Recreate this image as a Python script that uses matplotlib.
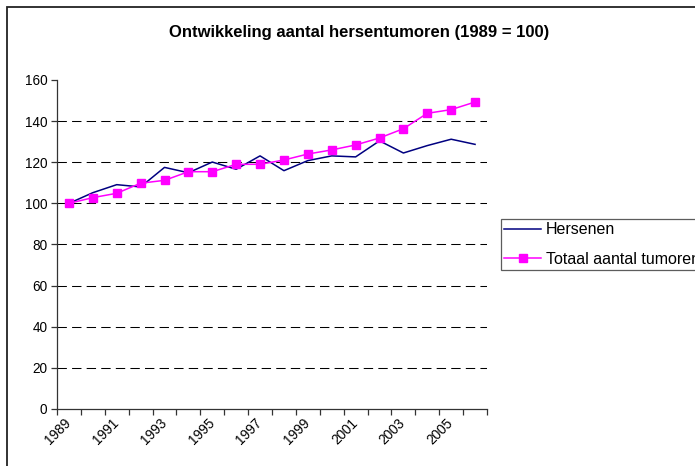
import matplotlib
matplotlib.use('Agg')
import matplotlib.pyplot as plt
from matplotlib.patches import Rectangle
from matplotlib.transforms import ScaledTranslation
import numpy as np

plt.rcParams['font.family'] = ['Liberation Sans', 'DejaVu Sans']

# data (index 1989 = 100)
years = list(range(1989, 2007))
hersenen = [100, 105.2, 109.1, 108.0, 117.5, 114.9, 120.1, 116.6, 123.1, 115.9,
            120.8, 123.1, 122.6, 130.4, 124.5, 128.1, 131.2, 128.7]
totaal = [100, 102.8, 104.9, 109.8, 111.2, 115.4, 115.4, 119.0, 119.0, 121.1,
          124.0, 126.0, 128.4, 131.8, 136.3, 143.8, 145.6, 149.3]
yticks = [0, 20, 40, 60, 80, 100, 120, 140, 160]
title = 'Ontwikkeling aantal hersentumoren (1989 = 100)'

W, H = 695, 466
fig = plt.figure(figsize=(W / 100, H / 100), dpi=100)
ax = fig.add_axes([57 / W, 1 - 409 / H, (487 - 57) / W, (409 - 80) / H])

x = np.arange(len(years))
ax.plot(x, hersenen, color='#000080', lw=1.1, label='Hersenen')
ax.plot(x, totaal, color='#FF00FF', lw=1.1, marker='s', markersize=5.5,
        label='Totaal aantal tumoren')

# axes styling, Excel look
ax.set_xlim(-0.5, len(years) - 0.5)
ax.set_ylim(0, 160)
for s in ['top', 'right']:
    ax.spines[s].set_visible(False)
for s in ['left', 'bottom']:
    ax.spines[s].set_color('#333333')
    ax.spines[s].set_linewidth(0.9)

ax.set_yticks(yticks)
ax.tick_params(axis='y', direction='out', length=4, width=0.9, color='#333333',
               labelsize=9.8, pad=3)
for v in yticks[1:-1]:
    ax.axhline(v, color='black', lw=0.75, linestyle=(0, (9, 5)), zorder=0)

# category axis: marks between categories, labels every other year
ax.set_xticks(np.arange(-0.5, len(years), 1.0))
ax.set_xticklabels([])
ax.tick_params(axis='x', which='major', direction='out', length=4, width=0.9,
               color='#333333')
ax.set_xticks(x[::2], minor=True)
ax.set_xticklabels([str(y) for y in years[::2]], minor=True, rotation=45,
                   ha='right', va='top', rotation_mode='anchor', fontsize=9.8)
ax.tick_params(axis='x', which='minor', length=0, pad=5)
shift = ScaledTranslation(-5 / 100, 0, fig.dpi_scale_trans)
for lab in ax.get_xticklabels(minor=True):
    lab.set_transform(lab.get_transform() + shift)

fig.text(359 / W, 1 - 32 / H, title, ha='center', va='center',
         fontsize=12, fontweight='bold')

leg = fig.legend(loc='upper left', bbox_to_anchor=(501 / W, 1 - 219 / H),
                 fontsize=11.5, frameon=True, fancybox=False, borderaxespad=0,
                 handlelength=2.3, handletextpad=0.3, borderpad=0.2,
                 labelspacing=0.9)
leg.get_frame().set_edgecolor('#333333')
leg.get_frame().set_linewidth(0.9)

# chart area border, runs off the right and bottom edge
fig.patches.append(Rectangle((7 / W, -0.1), 1.2, 1.1 - 7 / H,
                             transform=fig.transFigure, fill=False,
                             edgecolor='#222222', lw=1.3))

fig.savefig('out.png', dpi=100)
